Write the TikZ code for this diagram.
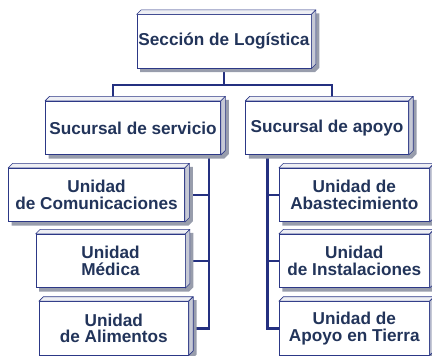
\documentclass[tikz,border=0pt]{standalone}
\usepackage{fontspec}
\setmainfont{Liberation Sans}
\usetikzlibrary{positioning, backgrounds, calc}

\definecolor{unitnavy}{RGB}{44,56,134}
\definecolor{linknavy}{RGB}{36,48,128}
\definecolor{labelnavy}{RGB}{34,52,90}
\definecolor{topgray}{RGB}{238,239,244}
\definecolor{sidegray}{RGB}{198,201,213}
\definecolor{shadegray}{RGB}{152,157,172}

\begin{document}
\begin{tikzpicture}[
    x=1pt, y=-1pt,
    every node/.style={font=\fontsize{17.2}{16.6}\selectfont\bfseries, text=labelnavy},
    unitbox/.style={
        rectangle, draw=unitnavy, line width=0.8pt,
        fill=white, align=center, inner sep=0pt,
        minimum height=53.4pt
    },
    bevel/.style={draw=unitnavy, line width=0.6pt, line join=round},
    link/.style={linknavy, line width=2.4pt}
]
\useasboundingbox (0,0) rectangle (432,356);

% Level 1
\node[unitbox, minimum width=174pt] (seccion) at (224,41.5) {Sección de Logística};

% Level 2
\node[unitbox, minimum width=175pt] (servicio) at (133,127.9) {Sucursal de servicio};
\node[unitbox, minimum width=162.6pt] (apoyo) at (327,127.9) {Sucursal de apoyo};

% Level 3 -- servicio
\node[unitbox, minimum width=176pt] (com) at (96.5,195) {Unidad\\de Comunicaciones};
\node[unitbox, minimum width=149pt] (med) at (110.5,261) {Unidad\\Médica};
\node[unitbox, minimum width=149pt] (ali) at (113.8,328.3) {Unidad\\de Alimentos};

% Level 3 -- apoyo
\node[unitbox, minimum width=150pt] (abas) at (354.3,195) {Unidad de\\Abastecimiento};
\node[unitbox, minimum width=150pt] (inst) at (354.3,261) {Unidad\\de Instalaciones};
\node[unitbox, minimum width=150pt] (tierra) at (354.3,328.3) {Unidad de\\Apoyo en Tierra};

\coordinate (busL) at (113,85);
\coordinate (busR) at (332,85);
\coordinate (spineL) at ($(servicio.south east)+(-12,0)$);
\coordinate (spineR) at ($(apoyo.south west)+(22,0)$);

\begin{pgfonlayer}{background}
  % Connectors
  \draw[link] (seccion.south) -- (seccion.south |- busL);
  \draw[link] (busL |- servicio.north) -- (busL) -- (busR) -- (busR |- apoyo.north);
  \draw[link] (spineL) -- (spineL |- ali.east) -- (ali.east);
  \foreach \u in {com,med}
    \draw[link] (spineL |- \u.east) -- (\u.east);
  \draw[link] (spineR) -- (spineR |- tierra.west) -- (tierra.west);
  \foreach \u in {abas,inst}
    \draw[link] (spineR |- \u.west) -- (\u.west);
  % Shadows
  \foreach \u in {seccion,servicio,apoyo,com,med,ali,abas,inst,tierra}
    \fill[shadegray] ($(\u.north west)+(3.5,3.5)$) -- ($(\u.north west)+(8,-1)$)
      -- ($(\u.north east)+(8,-1)$) -- ($(\u.south east)+(8,-1)$)
      -- ($(\u.south east)+(3.5,3.5)$) -- ($(\u.south west)+(3.5,3.5)$) -- cycle;
\end{pgfonlayer}

% Bevels
\foreach \u in {seccion,servicio,apoyo,com,med,ali,abas,inst,tierra}{
  \filldraw[bevel, fill=topgray] (\u.north west) -- ++(4.5,-4.5)
    -- ($(\u.north east)+(4.5,-4.5)$) -- (\u.north east) -- cycle;
  \filldraw[bevel, fill=sidegray] (\u.north east) -- ++(4.5,-4.5)
    -- ($(\u.south east)+(4.5,-4.5)$) -- (\u.south east) -- cycle;
}

\end{tikzpicture}
\end{document}
